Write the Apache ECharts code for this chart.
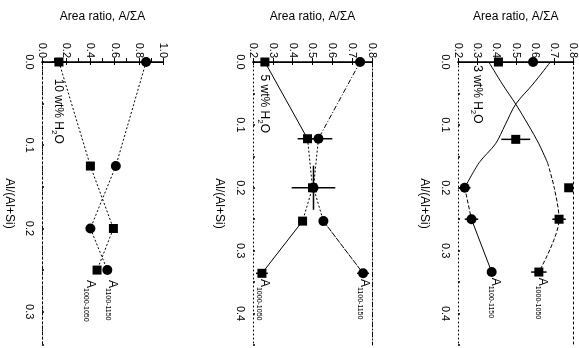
<!DOCTYPE html>
<html>
<head>
<meta charset="utf-8">
<script src="https://cdn.jsdelivr.net/npm/echarts@6/dist/echarts.min.js"></script>
<style>
  html, body { margin: 0; background: #fff; }
  #chart { width: 579px; height: 348px; }
</style>
</head>
<body>
<div id="chart"></div>
<script>
// 10 wt% H2O
const alP1 = [0.0, 0.125, 0.2, 0.25]
const sqP1 = [0.14, 0.40, 0.59, 0.455]
const ciP1 = [0.86, 0.61, 0.40, 0.54]
const sqErrP1 = [0.06, 0, 0, 0]
const ciErrP1 = [0, 0, 0, 0]

// 5 wt% H2O
const alP2 = [0.0, 0.122, 0.2, 0.253, 0.336]
const sqP2 = [0.26, 0.475, 0.50, 0.45, 0.245]
const ciP2 = [0.74, 0.53, 0.505, 0.555, 0.755]
const sqErrP2 = [0.02, 0.05, 0, 0.02, 0.03]
const ciErrP2 = [0, 0.07, 0.11, 0.02, 0.03]
const alErrP2 = [0, 0, 0.035, 0, 0]

// 3 wt% H2O
const alSqP3 = [0.0, 0.123, 0.2, 0.25, 0.334]
const sqP3 = [0.41, 0.50, 0.775, 0.725, 0.62]
const sqErrP3 = [0, 0.075, 0, 0.035, 0.04]
const alCiP3 = [0.0, 0.2, 0.25, 0.334]
const ciP3 = [0.59, 0.235, 0.27, 0.375]
const ciErrP3 = [0, 0.03, 0.035, 0.02]
// fitted curves
const fitAlP3 = [0, 0.035, 0.067, 0.1, 0.13, 0.16, 0.2, 0.25, 0.334]
const fitSqP3 = [0.36, 0.43, 0.50, 0.565, 0.62, 0.665, 0.70, 0.725, 0.62]
const fitCiP3 = [0.68, 0.59, 0.50, 0.445, 0.395, 0.31, 0.235, 0.27, 0.375]

const waterLabels = ['10 wt% H', '5 wt% H', '3 wt% H']
const peakLo = '1000-1050'
const peakHi = '1100-1150'
const xTitle = 'Area ratio, A/ΣA'
const yTitle = 'Al/(Al+Si)'

const FONT = '"Liberation Sans", Arial, sans-serif'

const panels = [
  { left: 42, width: 121, vMin: 0, vMax: 1, vInt: 0.2, alMax: 0.34, edge: [2, 3], nameGap: 27 },
  { left: 253, width: 119, vMin: 0.2, vMax: 0.8, vInt: 0.1, alMax: 0.45, edge: [5, 2, 1, 2], nameGap: 28 },
  { left: 458, width: 119, vMin: 0.2, vMax: 0.8, vInt: 0.1, alMax: 0.45, edge: [2, 3], nameGap: 28 },
]

function seg(vs, als, i0, i1) {
  const out = []
  for (let i = i0; i <= i1; i++)
    out.push([vs[i], als[i]])
  return out
}

function lineS(g, data, type, smooth) {
  return {
    type: 'line', xAxisIndex: 2 * g, yAxisIndex: 2 * g, data, symbol: 'none',
    silent: true, z: 2, smooth: smooth || false,
    lineStyle: { color: '#000', width: 1, type },
  }
}

function dots(g, vs, als, symbol) {
  return {
    type: 'scatter', xAxisIndex: 2 * g, yAxisIndex: 2 * g, z: 4,
    data: seg(vs, als, 0, vs.length - 1),
    symbol, symbolSize: symbol === 'rect' ? 9 : 10,
    itemStyle: { color: '#000', opacity: 1 },
  }
}

function errS(g, vs, als, ex, ey) {
  return {
    type: 'custom', xAxisIndex: 2 * g, yAxisIndex: 2 * g, z: 3, silent: true,
    data: vs.map((v, i) => [v, als[i], ex[i], ey ? ey[i] : 0]),
    renderItem(params, api) {
      const v = api.value(0)
      const a = api.value(1)
      const e = api.value(2)
      const f = api.value(3)
      const children = []
      const st = { stroke: '#000', lineWidth: 1.5 }
      if (e > 0) {
        const p0 = api.coord([v - e, a])
        const p1 = api.coord([v + e, a])
        children.push({ type: 'line', shape: { x1: p0[0], y1: p0[1], x2: p1[0], y2: p1[1] }, style: st })
      }
      if (f > 0) {
        const p0 = api.coord([v, a - f])
        const p1 = api.coord([v, a + f])
        children.push({ type: 'line', shape: { x1: p0[0], y1: p0[1], x2: p1[0], y2: p1[1] }, style: st })
      }
      return { type: 'group', children }
    },
  }
}

const grid = []
const xAxis = []
const yAxis = []
panels.forEach((p) => {
  grid.push({ left: p.left, width: p.width, top: 62, height: 283 })
  const gi = grid.length - 1
  xAxis.push({
    type: 'value', gridIndex: gi, position: 'top', min: p.vMin, max: p.vMax, interval: p.vInt,
    name: xTitle, nameLocation: 'middle', nameGap: 39,
    nameTextStyle: { color: '#000', fontSize: 12, fontFamily: FONT },
    axisLine: { lineStyle: { color: '#000', width: 1.6 } },
    axisTick: { inside: true, length: 3, lineStyle: { color: '#000' } },
    axisLabel: { rotate: -90, margin: 4, color: '#000', fontSize: 11, fontFamily: FONT, formatter: v => v.toFixed(1) },
    splitLine: { show: false },
  })
  xAxis.push({
    type: 'value', gridIndex: gi, position: 'bottom', min: p.vMin, max: p.vMax, interval: 0.1,
    axisLine: { lineStyle: { color: '#000', width: 1 } },
    axisTick: { inside: true, length: 4, lineStyle: { color: '#000' } },
    axisLabel: { show: false },
    splitLine: { show: false },
  })
  yAxis.push({
    type: 'value', gridIndex: gi, position: 'left', inverse: true, min: 0, max: p.alMax, interval: 0.05,
    name: yTitle, nameLocation: 'middle', nameRotate: -90, nameGap: p.nameGap,
    nameTextStyle: { color: '#000', fontSize: 12, fontFamily: FONT },
    axisLine: { lineStyle: { color: '#000', width: 1, type: [1, 3] } },
    axisTick: { inside: true, length: 2, lineStyle: { color: '#000', width: 1.5 } },
    axisLabel: {
      rotate: -90, margin: 7, color: '#000', fontSize: 11, fontFamily: FONT,
      formatter: v => (Math.round(v * 100) % 10 === 0 ? v.toFixed(1) : ''),
    },
    splitLine: { show: false },
  })
  yAxis.push({
    type: 'value', gridIndex: gi, position: 'right', inverse: true, min: 0, max: p.alMax,
    axisLine: { show: true, lineStyle: { color: '#000', width: 1, type: p.edge } },
    axisTick: { show: false },
    axisLabel: { show: false },
    splitLine: { show: false },
  })
})

const series = [
  // panel 1
  lineS(0, seg(sqP1, alP1, 0, 3), [2, 2]),
  lineS(0, seg(ciP1, alP1, 0, 3), [2, 2]),
  errS(0, sqP1, alP1, sqErrP1),
  errS(0, ciP1, alP1, ciErrP1),
  dots(0, sqP1, alP1, 'rect'),
  dots(0, ciP1, alP1, 'circle'),
  // panel 2
  lineS(1, seg(sqP2, alP2, 0, 1), 'solid'),
  lineS(1, seg(sqP2, alP2, 1, 3), [2, 2]),
  lineS(1, seg(sqP2, alP2, 3, 4), 'solid'),
  lineS(1, seg(ciP2, alP2, 0, 1), [5, 2, 1, 2]),
  lineS(1, seg(ciP2, alP2, 1, 3), [2, 2]),
  lineS(1, seg(ciP2, alP2, 3, 4), [6, 1]),
  errS(1, sqP2, alP2, sqErrP2),
  errS(1, ciP2, alP2, ciErrP2, alErrP2),
  dots(1, sqP2, alP2, 'rect'),
  dots(1, ciP2, alP2, 'circle'),
  // panel 3
  lineS(2, seg(fitSqP3, fitAlP3, 0, 5), 'solid', 0.3),
  lineS(2, seg(fitSqP3, fitAlP3, 5, 8), [4, 2], 0.3),
  lineS(2, seg(fitCiP3, fitAlP3, 0, 6), 'solid', 0.3),
  lineS(2, seg(fitCiP3, fitAlP3, 6, 7), [4, 2]),
  lineS(2, seg(fitCiP3, fitAlP3, 7, 8), 'solid'),
  errS(2, sqP3, alSqP3, sqErrP3),
  errS(2, ciP3, alCiP3, ciErrP3),
  dots(2, sqP3, alSqP3, 'rect'),
  dots(2, ciP3, alCiP3, 'circle'),
]

const chart = echarts.init(document.getElementById('chart'))
chart.setOption({ animation: false, backgroundColor: '#fff', grid, xAxis, yAxis, series })

// rotated annotations, placed in data coordinates
const rich = {
  m: { fontSize: 12, lineHeight: 14, verticalAlign: 'top', fontFamily: FONT },
  s: { fontSize: 7, lineHeight: 8, verticalAlign: 'bottom', fontFamily: FONT },
  w: { fontSize: 8, lineHeight: 8, verticalAlign: 'bottom', fontFamily: FONT },
}
function note(g, v, a, text) {
  const pt = chart.convertToPixel({ xAxisIndex: 2 * g, yAxisIndex: 2 * g }, [v, a])
  return {
    type: 'text', x: pt[0], y: pt[1], rotation: -Math.PI / 2, silent: true,
    style: {
      text, fill: '#000', align: 'left', verticalAlign: 'middle',
      textAlign: 'left', textVerticalAlign: 'middle',
      fontSize: 12, fontFamily: FONT, rich,
    },
  }
}
const water = t => '{m|' + t + '}{w|2}{m|O}'
chart.setOption({
  graphic: [
    note(0, 0.124, 0.02, water(waterLabels[0])),
    note(1, 0.25, 0.02, water(waterLabels[1])),
    note(2, 0.296, 0.005, water(waterLabels[2])),
    note(0, 0.39, 0.262, '{m|A}{s|' + peakLo + '}'),
    note(0, 0.575, 0.262, '{m|A}{s|' + peakHi + '}'),
    note(1, 0.25, 0.345, '{m|A}{s|' + peakLo + '}'),
    note(1, 0.755, 0.345, '{m|A}{s|' + peakHi + '}'),
    note(2, 0.387, 0.343, '{m|A}{s|' + peakHi + '}'),
    note(2, 0.635, 0.343, '{m|A}{s|' + peakLo + '}'),
  ],
})
</script>
</body>
</html>
